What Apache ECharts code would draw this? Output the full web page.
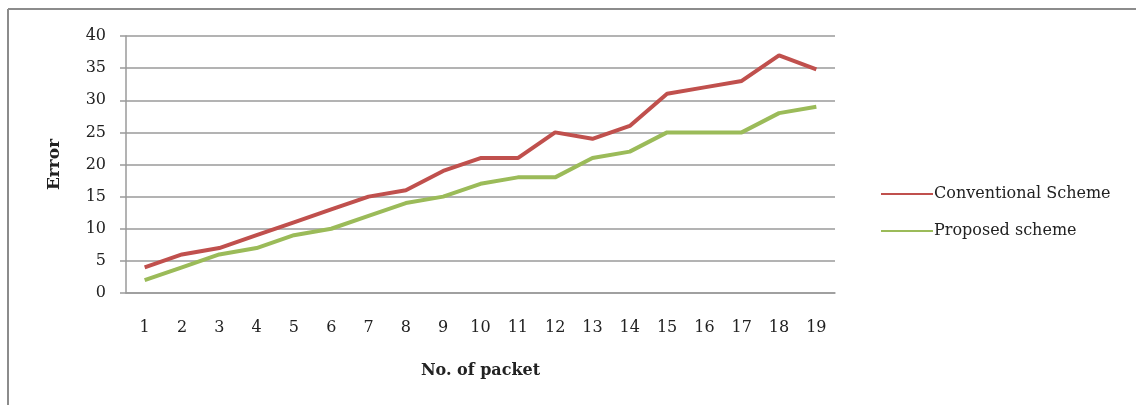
<!DOCTYPE html>
<html>
<head>
<meta charset="utf-8">
<script src="https://cdn.jsdelivr.net/npm/echarts@6/dist/echarts.min.js"></script>
<style>
  html, body { margin: 0; padding: 0; background: #fff; }
  #chart { width: 1136px; height: 405px; }
</style>
</head>
<body>
<div id="chart"></div>
<script>
// Packet numbers along the x axis
const packets = ['1','2','3','4','5','6','7','8','9','10','11','12','13','14','15','16','17','18','19'];
// Error per packet for each scheme
const conventional = [4, 6, 7, 9, 11, 13, 15, 16, 19, 21, 21, 25, 24, 26, 31, 32, 33, 37, 34.8];
const proposed = [2, 4, 6, 7, 9, 10, 12, 14, 15, 17, 18, 18, 21, 22, 25, 25, 25, 28, 29];

const seriesNames = ['Conventional Scheme', 'Proposed scheme'];
const colors = ['#C0504D', '#9BBB59'];
const serif = '"DejaVu Serif", "Liberation Serif", serif';

const chart = echarts.init(document.getElementById('chart'), null, { renderer: 'canvas' });

// Outer chart frame: only its top and left edges fall inside the canvas
const frameStyle = { stroke: '#8c8c8c', lineWidth: 2 };

chart.setOption({
  backgroundColor: '#fff',
  animation: false,
  graphic: [
    { type: 'line', shape: { x1: 8, y1: 9, x2: 1136, y2: 9 }, style: frameStyle, silent: true },
    { type: 'line', shape: { x1: 8, y1: 9, x2: 8, y2: 405 }, style: frameStyle, silent: true }
  ],
  grid: { left: 126, right: 301, top: 36, bottom: 112, containLabel: false },
  legend: {
    orient: 'vertical',
    left: 876,
    top: 181,
    itemWidth: 52,
    itemHeight: 14,
    itemGap: 21,
    icon: 'path://M0,6 L52,6 L52,8 L0,8 Z',
    textStyle: { fontFamily: serif, fontSize: 16, color: '#222', padding: [0, 0, 0, -4] },
    data: seriesNames
  },
  xAxis: {
    type: 'category',
    data: packets,
    boundaryGap: true,
    name: 'No. of packet',
    nameLocation: 'middle',
    nameGap: 70,
    nameTextStyle: { fontFamily: serif, fontSize: 16, fontWeight: 'bold', color: '#222' },
    axisLine: { lineStyle: { color: '#9a9a9a', width: 1.5 } },
    axisTick: { show: false },
    axisLabel: { fontFamily: serif, fontSize: 16, color: '#222', margin: 27 }
  },
  yAxis: {
    type: 'value',
    min: 0,
    max: 40,
    interval: 5,
    name: 'Error',
    nameLocation: 'middle',
    nameGap: 63,
    nameTextStyle: { fontFamily: serif, fontSize: 17, fontWeight: 'bold', color: '#222' },
    axisLine: { show: true, lineStyle: { color: '#9a9a9a', width: 1.5 } },
    axisTick: { show: true, length: 6, lineStyle: { color: '#9a9a9a', width: 1.5 } },
    axisLabel: { fontFamily: serif, fontSize: 16, color: '#222', margin: 20 },
    splitLine: { lineStyle: { color: '#9a9a9a', width: 1.5 } }
  },
  series: [
    {
      name: seriesNames[0],
      type: 'line',
      data: conventional,
      showSymbol: false,
      symbol: 'none',
      color: colors[0],
      lineStyle: { width: 4, color: colors[0] }
    },
    {
      name: seriesNames[1],
      type: 'line',
      data: proposed,
      showSymbol: false,
      symbol: 'none',
      color: colors[1],
      lineStyle: { width: 4, color: colors[1] }
    }
  ]
});
</script>
</body>
</html>
